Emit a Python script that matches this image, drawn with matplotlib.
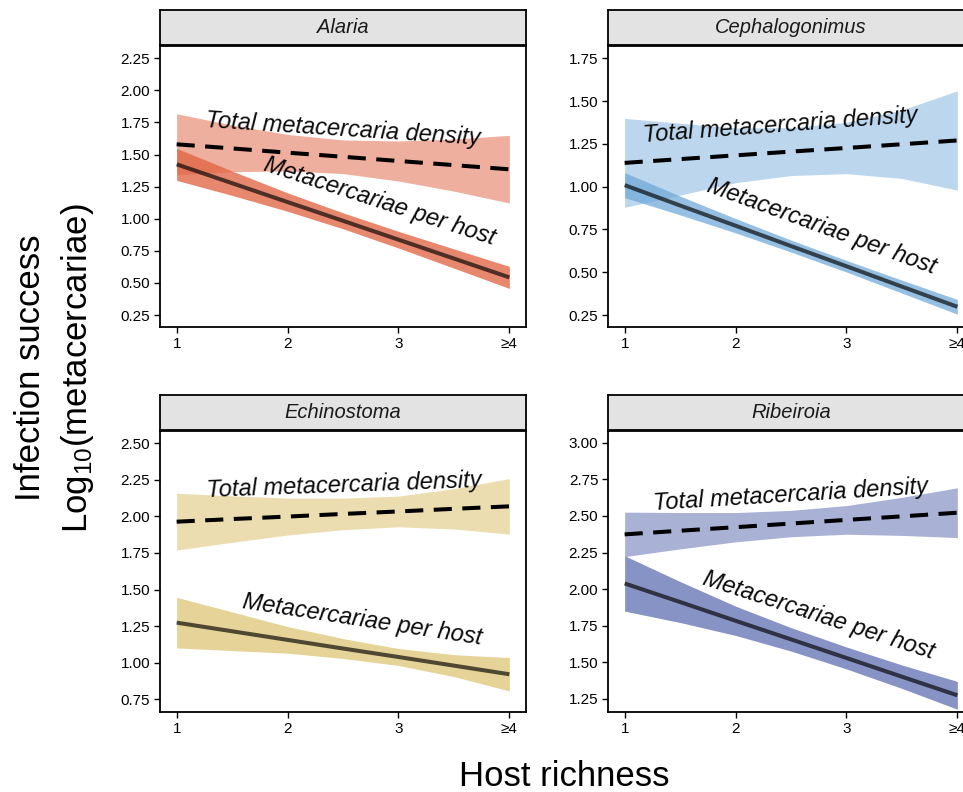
import matplotlib
matplotlib.use("Agg")
import matplotlib.pyplot as plt

plt.rcParams['font.family'] = ['Liberation Sans', 'DejaVu Sans']
plt.rcParams['mathtext.fontset'] = 'custom'
plt.rcParams['mathtext.rm'] = 'Liberation Sans'
plt.rcParams['mathtext.it'] = 'Liberation Sans:italic'

# ---------------- data ----------------
richness = [1, 1.5, 2, 2.5, 3, 3.5, 4]
tick_labels = ["1", "2", "3", "\u2265" + "4"]
parasites = ["Alaria", "Cephalogonimus", "Echinostoma", "Ribeiroia"]

# Alaria
alaria_total = [1.580, 1.548, 1.515, 1.483, 1.450, 1.418, 1.385]
alaria_total_lo = [1.342, 1.366, 1.373, 1.352, 1.294, 1.215, 1.123]
alaria_total_hi = [1.818, 1.730, 1.657, 1.614, 1.606, 1.621, 1.650]
alaria_host = [1.424, 1.277, 1.130, 0.984, 0.837, 0.690, 0.543]
alaria_host_lo = [1.299, 1.182, 1.058, 0.922, 0.772, 0.615, 0.457]
alaria_host_hi = [1.549, 1.372, 1.202, 1.046, 0.902, 0.765, 0.629]

# Cephalogonimus
cepha_total = [1.139, 1.161, 1.183, 1.205, 1.226, 1.248, 1.270]
cepha_total_lo = [0.879, 0.951, 1.023, 1.065, 1.076, 1.048, 0.980]
cepha_total_hi = [1.399, 1.371, 1.343, 1.345, 1.376, 1.448, 1.560]
cepha_host = [1.009, 0.890, 0.772, 0.653, 0.535, 0.416, 0.298]
cepha_host_lo = [0.936, 0.835, 0.730, 0.618, 0.501, 0.378, 0.255]
cepha_host_hi = [1.082, 0.945, 0.814, 0.688, 0.569, 0.454, 0.341]

# Echinostoma
echino_total = [1.964, 1.982, 1.999, 2.017, 2.034, 2.052, 2.069]
echino_total_lo = [1.770, 1.823, 1.873, 1.909, 1.929, 1.914, 1.879]
echino_total_hi = [2.158, 2.141, 2.125, 2.125, 2.139, 2.190, 2.259]
echino_host = [1.274, 1.215, 1.156, 1.097, 1.039, 0.980, 0.921]
echino_host_lo = [1.101, 1.083, 1.065, 1.029, 0.981, 0.905, 0.807]
echino_host_hi = [1.447, 1.347, 1.247, 1.165, 1.097, 1.055, 1.035]

# Ribeiroia
ribe_total = [2.374, 2.399, 2.423, 2.448, 2.473, 2.497, 2.522]
ribe_total_lo = [2.222, 2.275, 2.323, 2.358, 2.375, 2.367, 2.352]
ribe_total_hi = [2.526, 2.523, 2.523, 2.538, 2.571, 2.627, 2.692]
ribe_host = [2.039, 1.912, 1.784, 1.657, 1.530, 1.402, 1.275]
ribe_host_lo = [1.850, 1.772, 1.684, 1.577, 1.455, 1.322, 1.180]
ribe_host_hi = [2.228, 2.052, 1.884, 1.737, 1.605, 1.482, 1.370]

series = {
    "Alaria": (alaria_total, alaria_total_lo, alaria_total_hi, alaria_host, alaria_host_lo, alaria_host_hi),
    "Cephalogonimus": (cepha_total, cepha_total_lo, cepha_total_hi, cepha_host, cepha_host_lo, cepha_host_hi),
    "Echinostoma": (echino_total, echino_total_lo, echino_total_hi, echino_host, echino_host_lo, echino_host_hi),
    "Ribeiroia": (ribe_total, ribe_total_lo, ribe_total_hi, ribe_host, ribe_host_lo, ribe_host_hi),
}

# ---------------- styles ----------------
W, H = 963, 792
colors = {"Alaria": ("#E0603E", 0.5, 0.75),
          "Cephalogonimus": ("#6AA6D8", 0.45, 0.70),
          "Echinostoma": ("#D9BC60", 0.5, 0.65),
          "Ribeiroia": ("#5565AD", 0.5, 0.70)}
ylims = {"Alaria": (0.1565, 2.346), "Cephalogonimus": (0.180, 1.822),
         "Echinostoma": (0.663, 2.584), "Ribeiroia": (1.161, 3.080)}
yticks = {"Alaria": [0.25, 0.5, 0.75, 1.0, 1.25, 1.5, 1.75, 2.0, 2.25],
          "Cephalogonimus": [0.25, 0.5, 0.75, 1.0, 1.25, 1.5, 1.75],
          "Echinostoma": [0.75, 1.0, 1.25, 1.5, 1.75, 2.0, 2.25, 2.5],
          "Ribeiroia": [1.25, 1.5, 1.75, 2.0, 2.25, 2.5, 2.75, 3.0]}
# pixel boxes: left, top, bottom
boxes = {"Alaria": (160, 46, 327), "Cephalogonimus": (608, 46, 327),
         "Echinostoma": (160, 431, 712), "Ribeiroia": (608, 431, 712)}
# annotation (x, y, rotation) for total / per host
ann = {"Alaria": ((2.50, 1.70, -3.7), (2.834, 1.132, -18.0)),
       "Cephalogonimus": ((2.406, 1.36, 4.2), (2.777, 0.766, -20.0)),
       "Echinostoma": ((2.506, 2.215, 2.1), (2.677, 1.292, -8.7)),
       "Ribeiroia": ((2.497, 2.643, 3.5), (2.746, 1.822, -18.0))}

fig = plt.figure(figsize=(W / 100, H / 100), dpi=100)
pw = 366
for name in parasites:
    left, top, bottom = boxes[name]
    ax = fig.add_axes([left / W, 1 - bottom / H, pw / W, (bottom - top) / H])
    tot, tlo, thi, hst, hlo, hhi = series[name]
    base, a_tot, a_host = colors[name]
    ax.fill_between(richness, tlo, thi, color=base, alpha=a_tot, lw=0)
    ax.fill_between(richness, hlo, hhi, color=base, alpha=a_host, lw=0)
    ax.plot(richness, hst, color="black", alpha=0.66, lw=2.9, solid_capstyle="butt")
    ax.plot(richness, tot, color="black", lw=2.9, dashes=(4.5, 2.6))
    (tx, ty, tr), (hx, hy, hr) = ann[name]
    ax.text(tx, ty, "Total metacercaria density", rotation=tr, rotation_mode="anchor",
            ha="center", va="center", fontsize=17, style="italic", color="#0a0a0a")
    ax.text(hx, hy, "Metacercariae per host", rotation=hr, rotation_mode="anchor",
            ha="center", va="center", fontsize=17, style="italic", color="#0a0a0a")
    ax.set_xlim(0.85, 4.15)
    ax.set_ylim(*ylims[name])
    ax.set_xticks([1, 2, 3, 4])
    ax.set_xticklabels(tick_labels)
    ax.set_yticks(yticks[name])
    ax.set_yticklabels(["%.2f" % v for v in yticks[name]])
    ax.tick_params(axis="both", direction="out", length=4, width=1, labelsize=11,
                   colors="black", pad=3)
    for sp in ax.spines.values():
        sp.set_linewidth(1.3)
        sp.set_color("black")
    # strip
    sax = fig.add_axes([left / W, 1 - (top - 1) / H, pw / W, 35 / H])
    sax.set_xlim(0, 1)
    sax.set_ylim(0, 1)
    sax.set_xticks([])
    sax.set_yticks([])
    sax.set_facecolor("#E3E3E3")
    for sp in sax.spines.values():
        sp.set_linewidth(1.3)
        sp.set_color("black")
    sax.text(0.5, 0.5, name, ha="center", va="center", fontsize=14.5,
             style="italic", color="#1a1a1a")

fig.text(30 / W, 1 - 368 / H, "Infection success", rotation=90, ha="center",
         va="center", fontsize=25)
fig.text(77 / W, 1 - 368 / H, r"Log$_{\mathrm{10}}$(metacercariae)", rotation=90,
         ha="center", va="center", fontsize=25)
fig.text(564 / W, 1 - 776 / H, "Host richness", ha="center", va="center", fontsize=25)

fig.savefig("out.png", dpi=100)
